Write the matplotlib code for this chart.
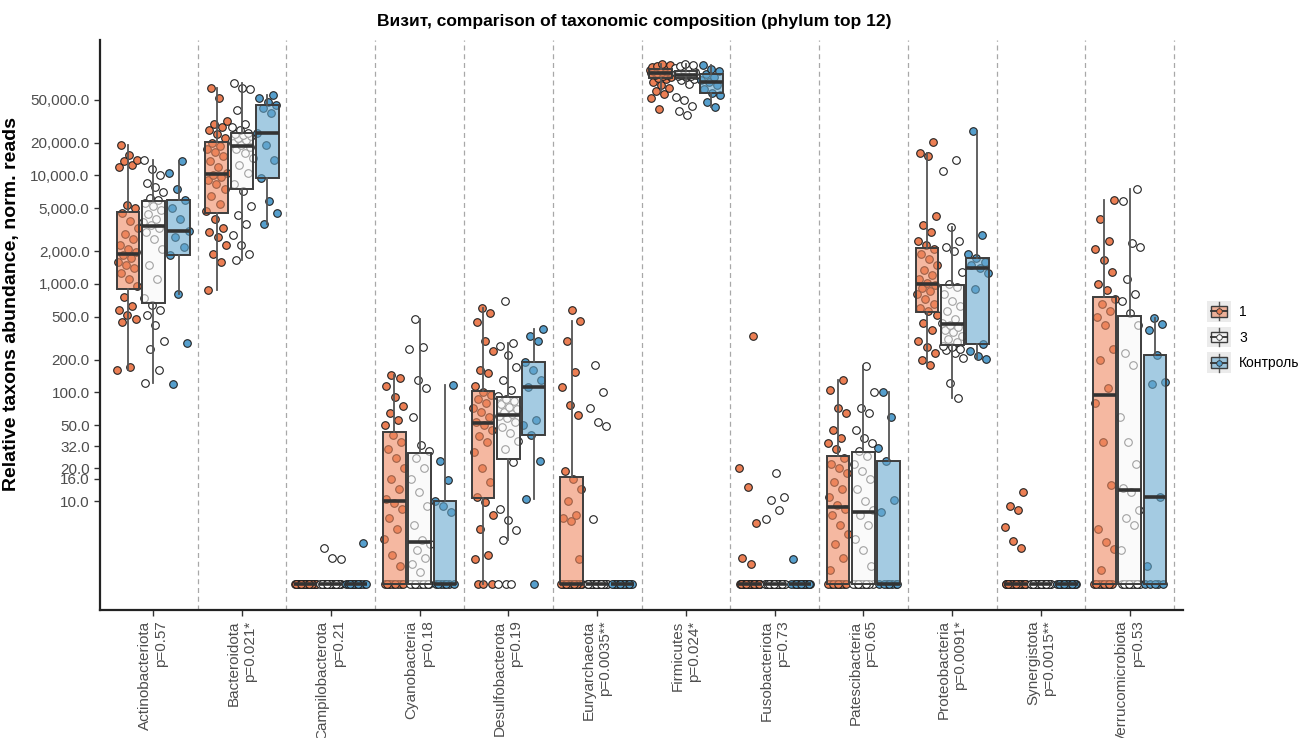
import numpy as np
import matplotlib
matplotlib.use('Agg')
import matplotlib.pyplot as plt
from matplotlib import cbook
from matplotlib.ticker import FixedLocator, NullLocator
from matplotlib.legend_handler import HandlerBase
from matplotlib.patches import Rectangle
from matplotlib.lines import Line2D

plt.rcParams['font.family'] = ['Liberation Sans', 'DejaVu Sans']

phyla = ['Actinobacteriota', 'Bacteroidota', 'Campilobacterota', 'Cyanobacteria',
         'Desulfobacterota', 'Euryarchaeota', 'Firmicutes', 'Fusobacteriota',
         'Patescibacteria', 'Proteobacteria', 'Synergistota', 'Verrucomicrobiota']
pvalues = ['p=0.57', 'p=0.021*', 'p=0.21', 'p=0.18', 'p=0.19', 'p=0.0035**',
           'p=0.024*', 'p=0.73', 'p=0.65', 'p=0.0091*', 'p=0.0015**', 'p=0.53']
groups = ['1', '3', 'Контроль']
yticks = [10, 16, 20, 32, 50, 100, 200, 500, 1000, 2000, 5000, 10000, 20000, 50000]

# normalised reads per sample, visit 1
visit_1 = {
    'Actinobacteriota': [160, 170, 450, 480, 520, 580, 620, 760, 950, 1100, 1250, 1400, 1500, 1600, 1750, 1850,
                         1950, 2100, 2300, 2600, 2900, 3300, 3800, 4500, 5000, 5300, 12000, 12500, 13500, 14000, 15500, 19000],
    'Bacteroidota': [880, 1600, 1900, 2300, 2700, 3000, 3300, 4000, 4700, 5500, 6500, 7500, 8300, 9000, 9600, 10000,
                     10600, 12000, 13500, 15000, 16500, 17500, 18500, 20000, 22000, 24000, 26000, 28000, 30000, 32000, 52000, 64000],
    'Campilobacterota': [0] * 32,
    'Cyanobacteria': [0, 0, 0, 0, 0, 0, 0, 0, 0, 2.5, 3.2, 4.5, 5.5, 7, 8.5, 9.5,
                      10.5, 13, 16, 20, 25, 30, 35, 41, 50, 56, 65, 75, 90, 115, 135, 145],
    'Desulfobacterota': [0, 0, 0, 2.9, 3.2, 5.5, 7.5, 9.8, 11, 15, 20, 28, 35, 40, 45, 50,
                         54, 60, 66, 72, 80, 88, 95, 100, 115, 150, 160, 240, 300, 450, 540, 600],
    'Euryarchaeota': [0] * 17 + [2.9, 6.5, 7, 7.5, 10, 13, 16, 19, 62, 77, 112, 155, 300, 460, 575],
    'Firmicutes': [41000, 52000, 56000, 60000, 64000, 68000, 72000, 77000, 79500, 81000, 82000, 83500, 85000, 86000, 87000, 87500,
                   88500, 89500, 90500, 91500, 92500, 93000, 94000, 94500, 96500, 97500, 98500, 99500, 100000, 102000, 104000, 106000],
    'Fusobacteriota': [0] * 26 + [2.6, 3.0, 6.3, 13.5, 20, 330],
    'Patescibacteria': [0, 0, 0, 0, 0, 0, 0, 0, 0, 2.3, 3, 4, 5, 6, 7.5, 8.5,
                        9.1, 11, 13, 15, 18, 20, 22, 25, 30, 34, 38, 45, 65, 72, 105, 130],
    'Proteobacteria': [180, 200, 230, 260, 300, 380, 440, 520, 560, 600, 650, 720, 800, 860, 920, 980,
                       1020, 1100, 1200, 1350, 1500, 1700, 1900, 2100, 2300, 2500, 3000, 3500, 4200, 15000, 16000, 20500],
    'Synergistota': [0] * 26 + [3.7, 4.3, 5.8, 8.3, 9, 12],
    'Verrucomicrobiota': [0, 0, 0, 0, 0, 0, 0, 0, 0, 2.3, 3.6, 4.2, 5.5, 14, 35, 80,
                          110, 200, 250, 420, 500, 560, 650, 720, 880, 1000, 1300, 1650, 2100, 2500, 4000, 5950],
}

# visit 3
visit_3 = {
    'Actinobacteriota': [122, 160, 250, 300, 420, 520, 580, 640, 750, 1100, 1500, 2100, 2600, 3000, 3300,
                         3500, 3700, 4000, 4400, 4800, 5200, 5600, 5900, 6200, 7000, 7800, 8600, 10000, 11500, 14000],
    'Bacteroidota': [1660, 1900, 2300, 2800, 3600, 4300, 5200, 7200, 8400, 10500, 12500, 14500, 16000, 17500, 18300,
                     18900, 19800, 21000, 22000, 23000, 23500, 24200, 24600, 26500, 28000, 30000, 40000, 62000, 64000, 71000],
    'Campilobacterota': [0] * 27 + [2.9, 3.0, 3.7],
    'Cyanobacteria': [0, 0, 0, 0, 0, 0, 0, 0, 0, 0, 2.2, 2.6, 3.0, 3.5, 4.0,
                      4.4, 6, 9, 12, 16, 20, 25, 29, 33, 60, 110, 130, 250, 260, 480],
    'Desulfobacterota': [0, 0, 0, 4.4, 5.4, 6.7, 8.5, 23, 30, 36, 42, 48, 54, 58, 61,
                         63, 66, 70, 74, 78, 83, 88, 92, 105, 130, 170, 220, 270, 285, 690],
    'Euryarchaeota': [0] * 24 + [6.8, 49, 53, 72, 100, 180],
    'Firmicutes': [36000, 39000, 44000, 50000, 53000, 70000, 75000, 78000, 80500, 82000, 83000, 83500, 84000, 84200, 84500,
                   85500, 87000, 88000, 89000, 90000, 90500, 91500, 92500, 94000, 96000, 98000, 100000, 102000, 104000, 106000],
    'Fusobacteriota': [0] * 25 + [6.8, 8.3, 10.2, 10.8, 18],
    'Patescibacteria': [0, 0, 0, 0, 0, 0, 0, 0, 0, 0, 2.5, 3.5, 4.5, 6, 7.5,
                        8.3, 10, 13, 16, 19, 22, 26, 29, 34, 38, 45, 65, 72, 100, 175],
    'Proteobacteria': [89, 122, 210, 230, 245, 250, 260, 270, 290, 310, 330, 360, 380, 400, 420,
                       436, 480, 560, 620, 700, 800, 940, 1000, 1300, 2000, 2200, 2500, 3350, 11000, 14000],
    'Synergistota': [0] * 30,
    'Verrucomicrobiota': [0, 0, 0, 0, 0, 0, 0, 0, 0, 0, 3.5, 6, 7, 8.2, 12,
                          13.2, 22, 35, 60, 180, 230, 420, 540, 700, 800, 1100, 2200, 2400, 5800, 7500],
}

# control group
control = {
    'Actinobacteriota': [120, 285, 810, 1850, 2200, 2700, 3100, 4000, 5000, 5900, 7500, 10500, 13700],
    'Bacteroidota': [3600, 4500, 5800, 9500, 14000, 19000, 24600, 38000, 42000, 44700, 48000, 52000, 55000],
    'Campilobacterota': [0] * 12 + [4.1],
    'Cyanobacteria': [0] * 7 + [8.0, 9.0, 10, 15.6, 23.5, 117],
    'Desulfobacterota': [0, 10.4, 23.5, 40.5, 50, 56, 112, 130, 160, 190, 300, 330, 385],
    'Euryarchaeota': [0] * 13,
    'Firmicutes': [43000, 48000, 55000, 57500, 62000, 68000, 72800, 76000, 80000, 86000, 92000, 96000, 104000],
    'Fusobacteriota': [0] * 12 + [2.9],
    'Patescibacteria': [0] * 7 + [8, 10.2, 23.5, 31, 60, 100],
    'Proteobacteria': [205, 215, 240, 280, 900, 1250, 1400, 1500, 1600, 1740, 1900, 2800, 25800],
    'Synergistota': [0] * 13,
    'Verrucomicrobiota': [0, 0, 0, 0, 0, 2.5, 11, 120, 125, 222, 380, 430, 490],
}

group_data = [visit_1, visit_3, control]
box_fill = ['#EF8A62', '#F7F7F7', '#67A9CF']
dot_fill = ['#EC7F54', '#FFFFFF', '#569FCD']
ZERO_LEVEL = 1.72   # where zero counts sit on the log axis
offsets = [-0.285, 0.0, 0.285]
box_w = 0.255
edge = '#3D3D3D'

fig = plt.figure(figsize=(12.99, 7.38), dpi=100)
ax = fig.add_axes([100 / 1299, 1 - 610 / 738, 1083 / 1299, 570 / 738])
ax.set_yscale('log')

for i, ph in enumerate(phyla):
    for g in range(3):
        vals = np.asarray(group_data[g][ph], dtype=float)
        vals = np.where(vals > 0, vals, ZERO_LEVEL)
        x = i + offsets[g]
        # deterministic jitter inside the box width
        idx = np.arange(len(vals))
        jit = (((idx * 0.6180339887) + 0.13 * g + 0.07 * i) % 1.0 - 0.5) * 0.24
        ax.scatter(x + jit, vals, s=30, c=dot_fill[g], edgecolors='#222222',
                   linewidths=0.8, zorder=2)
        # box statistics in log space, like a transformed ggplot scale
        st = cbook.boxplot_stats(np.log10(vals), whis=1.5)[0]
        for k in ('med', 'q1', 'q3', 'whislo', 'whishi', 'mean'):
            st[k] = 10 ** st[k]
        st['fliers'] = []
        ax.bxp([st], positions=[x], widths=box_w, showfliers=False, showcaps=False,
               patch_artist=True, manage_ticks=False, zorder=3,
               boxprops=dict(facecolor=matplotlib.colors.to_rgba(box_fill[g], 0.6),
                             edgecolor=edge, linewidth=1.4),
               medianprops=dict(color='#333333', linewidth=2.6, solid_capstyle='butt'),
               whiskerprops=dict(color='#555555', linewidth=1.3))

for k in range(len(phyla)):
    ax.axvline(k + 0.5, color='#A8A8A8', linestyle=(0, (4, 3)), linewidth=0.9, zorder=0)

ax.set_xlim(-0.6, len(phyla) - 0.4)
ax.set_ylim(0.99, 1.77e5)
ax.yaxis.set_major_locator(FixedLocator(yticks))
ax.yaxis.set_minor_locator(NullLocator())
ax.set_yticklabels([f'{t:,.1f}' for t in yticks])
ax.set_xticks(range(len(phyla)))
ax.set_xticklabels([f'{p}\n{pv}' for p, pv in zip(phyla, pvalues)], rotation=90,
                   ha='center', va='top', multialignment='right')
ax.tick_params(axis='both', colors='#4D4D4D', labelsize=11, length=4, width=1)
ax.tick_params(axis='both', which='both', color='#333333')

for s in ('top', 'right'):
    ax.spines[s].set_visible(False)
for s in ('left', 'bottom'):
    ax.spines[s].set_linewidth(1.6)
    ax.spines[s].set_color('#222222')

ax.set_title('Визит, comparison of taxonomic composition (phylum top 12)',
             fontsize=12.5, fontweight='bold', pad=10, x=0.493)
ax.set_ylabel('Relative taxons abundance, norm. reads', fontsize=14, fontweight='bold')
ax.yaxis.set_label_coords(-0.074, 0.537)


class BoxKey(HandlerBase):
    def __init__(self, fill, dot):
        super().__init__()
        self.fill, self.dot = fill, dot

    def create_artists(self, legend, orig_handle, xd, yd, width, height, fontsize, trans):
        x0, y0 = -xd, -yd
        bg = Rectangle((x0 - 1, y0 - 2), width + 2, height + 4, facecolor='#EBEBEB',
                       edgecolor='none', transform=trans)
        wh = Line2D([x0 + width / 2] * 2, [y0 - 1, y0 + height + 1], color='#555555',
                    lw=1, transform=trans)
        bx = Rectangle((x0 + width * 0.1, y0 + height * 0.15), width * 0.8, height * 0.7,
                       facecolor=matplotlib.colors.to_rgba(self.fill, 0.6),
                       edgecolor=edge, lw=1, transform=trans)
        med = Line2D([x0 + width * 0.1, x0 + width * 0.9], [y0 + height / 2] * 2,
                     color='#333333', lw=1.3, transform=trans)
        dot = Line2D([x0 + width / 2], [y0 + height / 2], marker='o', ms=4,
                     mfc=self.dot, mec='#333333', mew=0.6, ls='', transform=trans)
        return [bg, wh, bx, med, dot]


handles = [Rectangle((0, 0), 1, 1) for _ in groups]
hmap = {h: BoxKey(box_fill[g], dot_fill[g]) for g, h in enumerate(handles)}
fig.legend(handles, groups, handler_map=hmap, loc='center left',
           bbox_to_anchor=(1196 / 1299, 1 - 337 / 738), frameon=False, fontsize=10,
           handlelength=1.5, handleheight=1.3, labelspacing=0.75, handletextpad=0.7)

fig.savefig('out.png', dpi=100)
